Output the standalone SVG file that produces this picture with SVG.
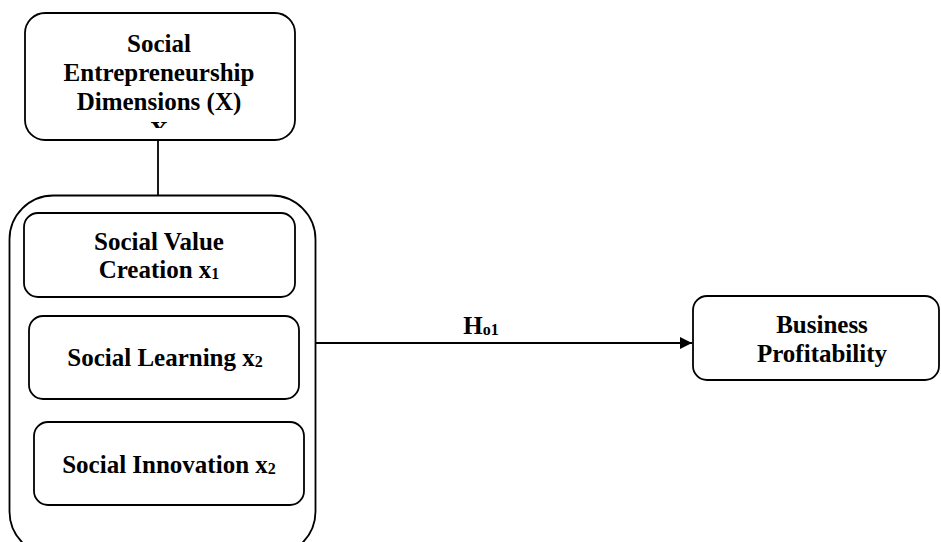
<svg xmlns="http://www.w3.org/2000/svg" width="941" height="542" viewBox="0 0 941 542">
<style>
.box{fill:#fff;stroke:#000;stroke-width:1.8}
.t{font-family:"Liberation Serif","Times New Roman",serif;font-weight:bold;font-size:25px;fill:#000;text-anchor:middle}
.sub{font-size:16px}
.conn{stroke:#000;stroke-width:1.8;fill:none}
</style>
<defs>
<marker id="arr" markerWidth="12" markerHeight="12" refX="12" refY="6" orient="auto" markerUnits="userSpaceOnUse">
<path d="M0,0 L12,6 L0,12 Z" fill="#000"/>
</marker>
<clipPath id="clipx"><rect x="140" y="118" width="40" height="10"/></clipPath>
</defs>
<rect width="941" height="542" fill="#fff"/>
<g id="connectors">
<line class="conn" x1="158" y1="140" x2="158" y2="196"/>
<line class="conn" x1="313" y1="343" x2="692" y2="343" marker-end="url(#arr)"/>
<text class="t" x="481" y="334">H<tspan class="sub" dy="1">o1</tspan></text>
</g>
<g id="social-entrepreneurship">
<rect class="box" x="25" y="13" width="270" height="127" rx="20"/>
<text class="t" x="159" y="52">Social</text>
<text class="t" x="159" y="81">Entrepreneurship</text>
<text class="t" x="159" y="110">Dimensions (X)</text>
<text class="t" x="159" y="139" clip-path="url(#clipx)">X</text>
</g>
<g id="dimensions-group">
<rect class="box" x="9.5" y="195.5" width="306" height="360" rx="44"/>
</g>
<g id="social-value-creation">
<rect class="box" x="24" y="213" width="271" height="84" rx="14"/>
<text class="t" x="159" y="250">Social Value</text>
<text class="t" x="159" y="278">Creation x<tspan class="sub" dy="1">1</tspan></text>
</g>
<g id="social-learning">
<rect class="box" x="29" y="316" width="270" height="83" rx="14"/>
<text class="t" x="165" y="366">Social Learning x<tspan class="sub" dy="1">2</tspan></text>
</g>
<g id="social-innovation">
<rect class="box" x="34" y="422" width="270" height="83" rx="14"/>
<text class="t" x="169" y="473">Social Innovation x<tspan class="sub" dy="1">2</tspan></text>
</g>
<g id="business-profitability">
<rect class="box" x="693" y="296" width="246" height="84" rx="14"/>
<text class="t" x="822" y="333">Business</text>
<text class="t" x="822" y="362">Profitability</text>
</g>
</svg>
